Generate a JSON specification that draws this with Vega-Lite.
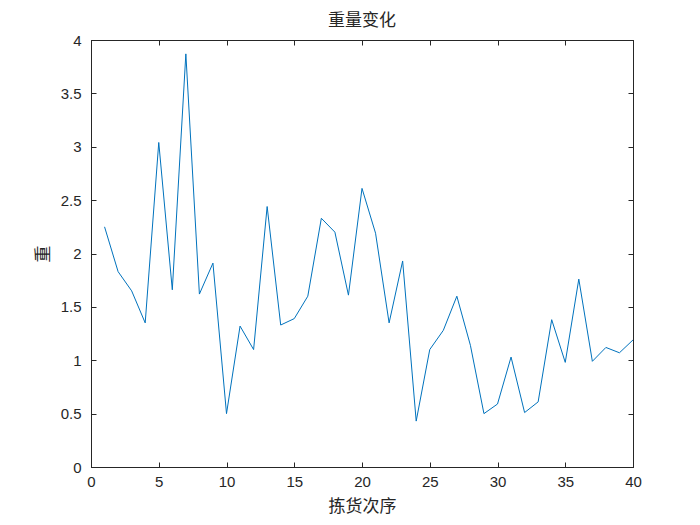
{
  "$schema": "https://vega.github.io/schema/vega-lite/v6.json",
  "width": 542,
  "height": 427,
  "autosize": {"type": "none"},
  "padding": {"left": 91, "top": 40, "right": 67, "bottom": 58},
  "background": "white",
  "title": {"text": "重量变化", "font": "Noto Sans CJK SC", "fontSize": 17, "fontWeight": "normal", "color": "#262626", "offset": 3},
  "config": {
    "view": {"stroke": "#262626", "strokeWidth": 1},
    "axis": {
      "grid": false,
      "domainColor": "#262626",
      "tickColor": "#262626",
      "tickSize": -5,
      "labelFlush": false,
      "labelOverlap": false,
      "labelColor": "#262626",
      "labelFont": "Liberation Sans",
      "labelFontSize": 15,
      "titleFont": "Noto Sans CJK SC",
      "titleFontSize": 17,
      "titleFontWeight": "normal",
      "titleColor": "#262626"
    }
  },
  "data": {"values": [
    {"i": 1, "w": 2.25}, {"i": 2, "w": 1.83}, {"i": 3, "w": 1.65}, {"i": 4, "w": 1.35},
    {"i": 5, "w": 3.04}, {"i": 6, "w": 1.66}, {"i": 7, "w": 3.87}, {"i": 8, "w": 1.62},
    {"i": 9, "w": 1.91}, {"i": 10, "w": 0.50}, {"i": 11, "w": 1.32}, {"i": 12, "w": 1.10},
    {"i": 13, "w": 2.44}, {"i": 14, "w": 1.33}, {"i": 15, "w": 1.39}, {"i": 16, "w": 1.60},
    {"i": 17, "w": 2.33}, {"i": 18, "w": 2.20}, {"i": 19, "w": 1.61}, {"i": 20, "w": 2.61},
    {"i": 21, "w": 2.19}, {"i": 22, "w": 1.35}, {"i": 23, "w": 1.93}, {"i": 24, "w": 0.43},
    {"i": 25, "w": 1.10}, {"i": 26, "w": 1.28}, {"i": 27, "w": 1.60}, {"i": 28, "w": 1.14},
    {"i": 29, "w": 0.50}, {"i": 30, "w": 0.59}, {"i": 31, "w": 1.03}, {"i": 32, "w": 0.51},
    {"i": 33, "w": 0.61}, {"i": 34, "w": 1.38}, {"i": 35, "w": 0.98}, {"i": 36, "w": 1.76},
    {"i": 37, "w": 0.99}, {"i": 38, "w": 1.12}, {"i": 39, "w": 1.07}, {"i": 40, "w": 1.19}
  ]},
  "layer": [
    {
      "mark": {"type": "line", "color": "#0072BD", "strokeWidth": 1},
      "encoding": {
        "x": {"field": "i", "type": "quantitative", "scale": {"domain": [0, 40], "nice": false},
          "axis": {"orient": "bottom", "title": "拣货次序", "values": [0,5,10,15,20,25,30,35,40], "labelPadding": 12, "titlePadding": 9}},
        "y": {"field": "w", "type": "quantitative", "scale": {"domain": [0, 4], "nice": false},
          "axis": {"orient": "left", "title": "重", "values": [0,0.5,1,1.5,2,2.5,3,3.5,4], "format": "~g", "labelPadding": 15, "titlePadding": 8}}
      }
    },
    {
      "mark": {"type": "line", "opacity": 0},
      "encoding": {
        "x": {"field": "i", "type": "quantitative",
          "axis": {"orient": "top", "title": null, "labels": false, "values": [0,5,10,15,20,25,30,35,40]}},
        "y": {"field": "w", "type": "quantitative",
          "axis": {"orient": "right", "title": null, "labels": false, "values": [0,0.5,1,1.5,2,2.5,3,3.5,4]}}
      }
    }
  ],
  "resolve": {"axis": {"x": "independent", "y": "independent"}}
}
